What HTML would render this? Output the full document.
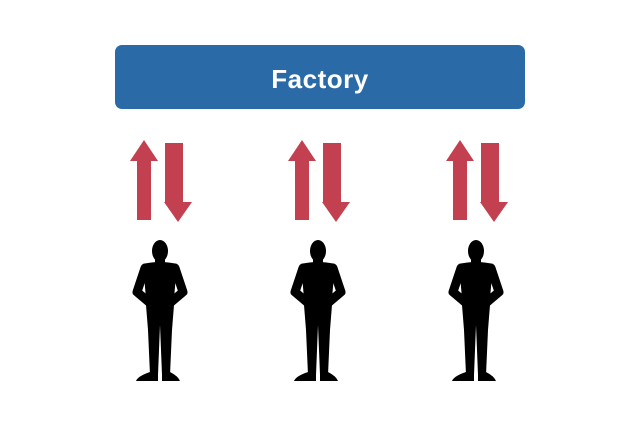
<!DOCTYPE html>
<html><head><style>
body{margin:0;width:640px;height:427px;background:#fff;overflow:hidden;font-family:"Liberation Sans",sans-serif}
.box{position:absolute;left:115px;top:45px;width:410px;height:64px;background:#2a6aa7;border-radius:7px;color:#fff;font-size:26px;font-weight:bold;text-align:center;line-height:68px;letter-spacing:0.5px}
</style></head><body>
<div class="box">Factory</div>
<svg width="640" height="427" style="position:absolute;left:0;top:0">
<defs>
<g id="g">
<polygon fill="#c2404f" points="130,161 144,140 158,161 151,161 151,220 137,220 137,161"/>
<polygon fill="#c2404f" points="165,143 183,143 183,202 192,202 178,222 164,202 165,202" />
<g fill="#000">
<ellipse cx="160" cy="251" rx="8" ry="11"/>
<rect x="155" y="257" width="10" height="10"/>
<path d="M143,264 Q160,260 177,264 L173,310 L147,310 Z"/>
<polyline points="145,268 137,292 150,303" fill="none" stroke="#000" stroke-width="9" stroke-linejoin="round" stroke-linecap="round"/>
<polyline points="175,268 183,292 170,303" fill="none" stroke="#000" stroke-width="9" stroke-linejoin="round" stroke-linecap="round"/>
<path d="M146,305 L174,305 L172,330 L170,375 L162,375 L160,325 L158,375 L150,375 L148,330 Z"/>
<path d="M150,372 L158,372 L158,381 L136,381 Q138,376 150,372 Z"/>
<path d="M162,372 L170,372 Q178,376 180,381 L162,381 Z"/>
</g>
</g>
</defs>
<use href="#g"/>
<use href="#g" x="158"/>
<use href="#g" x="316"/>
</svg>
</body></html>
